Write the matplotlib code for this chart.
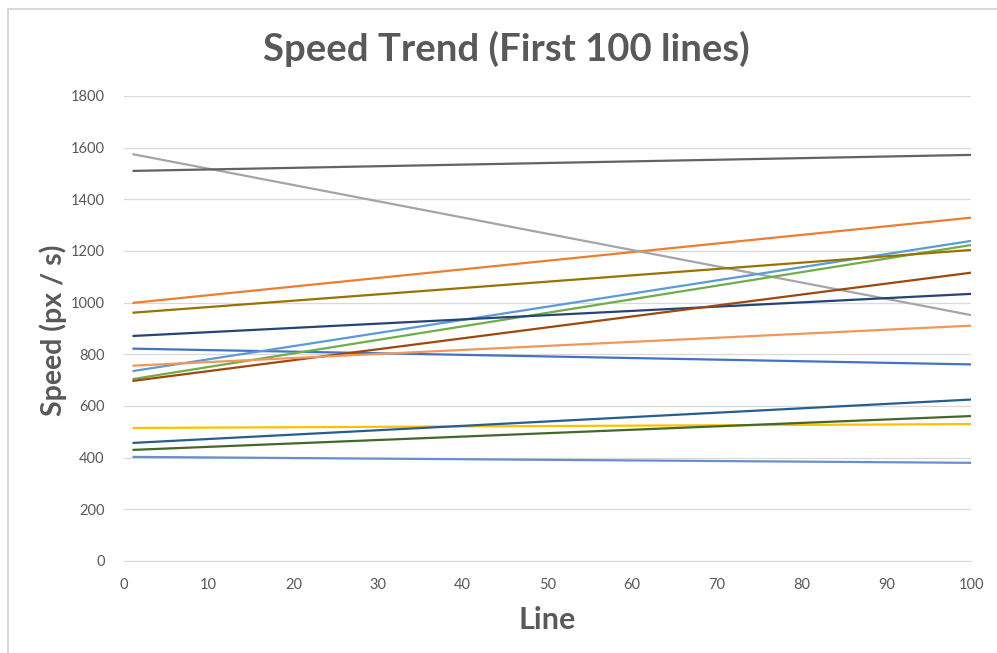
import matplotlib.pyplot as plt
from matplotlib.patches import Rectangle

# first and last line index of the trend
lines = [1, 100]

# speed at line 1 and line 100 for each series
speed_first = [822, 999, 1575, 515, 735, 704, 871, 697, 1510, 961, 457, 430, 403, 756]
speed_last = [761, 1329, 952, 530, 1239, 1223, 1034, 1116, 1572, 1204, 625, 561, 380, 911]

colors = ["#4472C4", "#ED7D31", "#A5A5A5", "#FFC000", "#5B9BD5", "#70AD47",
          "#264478", "#9E480E", "#636363", "#997300", "#255E91", "#43682B",
          "#698ED0", "#F1975A"]

plt.rcParams["font.family"] = ["Lato", "DejaVu Sans"]
text_color = "#595959"

fig = plt.figure(figsize=(9.97, 6.53), dpi=100)
ax = fig.add_axes([124 / 997, 1 - 561 / 653, (971 - 124) / 997, (561 - 96) / 653])

# chart frame (only the top and left edges fall inside the image)
fig.patches.append(Rectangle((8 / 997, -0.1), 1.2, 1 - 9 / 653 + 0.1,
                             transform=fig.transFigure, fill=False,
                             edgecolor="#D9D9D9", linewidth=1.5))

for s, e, c in zip(speed_first, speed_last, colors):
    ax.plot(lines, [s, e], color=c, linewidth=1.6, solid_capstyle="butt")

ax.set_xlim(0, 100)
ax.set_ylim(0, 1800)
ax.set_xticks(range(0, 101, 10))
ax.set_yticks(range(0, 1801, 200))
ax.grid(axis="y", color="#D9D9D9", linewidth=0.9)
ax.set_axisbelow(True)
for side in ["top", "right", "left"]:
    ax.spines[side].set_visible(False)
ax.spines["bottom"].set_color("#D9D9D9")
ax.tick_params(length=0, labelsize=10.5, labelcolor=text_color)
ax.tick_params(axis="y", pad=14)
ax.tick_params(axis="x", pad=12)

fig.text(506 / 997, 1 - 49 / 653, "Speed Trend (First 100 lines)", ha="center",
         va="center", fontsize=27.5, fontweight="bold", color=text_color)
ax.set_xlabel("Line", fontsize=22, fontweight="bold", color=text_color, labelpad=10)
fig.text(53 / 997, 1 - 330 / 653, "Speed (px / s)", rotation=90, ha="center",
         va="center", fontsize=20.5, fontweight="bold", color=text_color)

fig.savefig("out.png", dpi=100)
